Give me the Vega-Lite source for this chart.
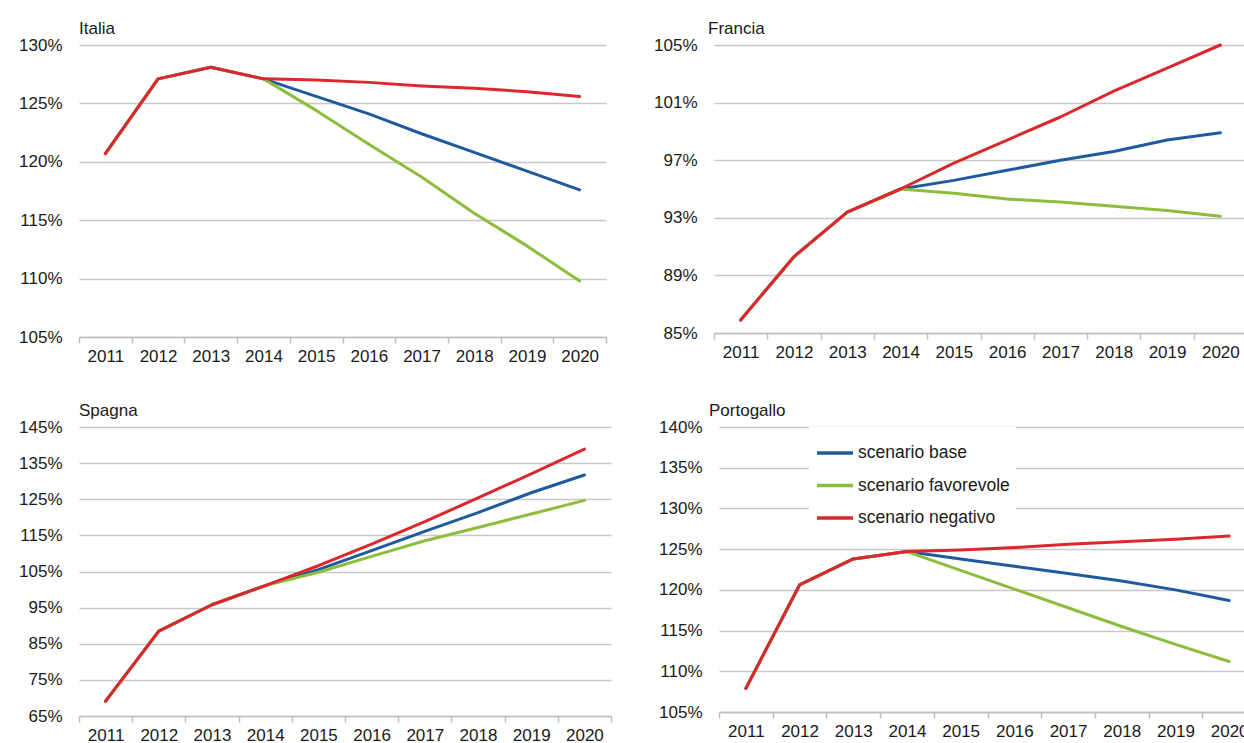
{
  "$schema": "https://vega.github.io/schema/vega-lite/v6.json",
  "padding": {"left": 18, "top": 20, "right": 0, "bottom": 0},
  "background": "white",
  "config": {
    "font": "Liberation Sans",
    "view": {"stroke": null},
    "title": {"anchor": "start", "frame": "group", "fontSize": 17, "fontWeight": "normal", "color": "#1a1a1a", "offset": -2},
    "axisX": {"title": null, "labelAngle": 0, "grid": false, "domainColor": "#bfbfbf", "domainWidth": 1.5, "tickColor": "#bfbfbf", "tickWidth": 1.5, "tickSize": 6, "tickBand": "extent", "labelFontSize": 17, "labelColor": "#1a1a1a", "labelPadding": 5},
    "axisY": {"title": null, "domain": false, "ticks": false, "grid": true, "gridColor": "#c8c8c8", "gridWidth": 1.5, "labelFontSize": 17, "labelColor": "#1a1a1a", "labelPadding": 17, "labelExpr": "datum.value + '%'"},
    "legend": {"title": null, "orient": "none", "legendX": 730, "legendY": 382, "fillColor": "white", "padding": 6, "symbolType": "stroke", "symbolStrokeWidth": 3.5, "symbolSize": 1296, "labelFontSize": 17.5, "labelColor": "#1a1a1a", "labelOffset": 3, "rowPadding": 3.5, "labelLimit": 300}
  },
  "data": {"values": [
    {"paese":"Italia","scenario":"scenario base","anno":"2011","valore":120.7},
    {"paese":"Italia","scenario":"scenario base","anno":"2012","valore":127.1},
    {"paese":"Italia","scenario":"scenario base","anno":"2013","valore":128.1},
    {"paese":"Italia","scenario":"scenario base","anno":"2014","valore":127.1},
    {"paese":"Italia","scenario":"scenario base","anno":"2015","valore":125.6},
    {"paese":"Italia","scenario":"scenario base","anno":"2016","valore":124.1},
    {"paese":"Italia","scenario":"scenario base","anno":"2017","valore":122.4},
    {"paese":"Italia","scenario":"scenario base","anno":"2018","valore":120.8},
    {"paese":"Italia","scenario":"scenario base","anno":"2019","valore":119.2},
    {"paese":"Italia","scenario":"scenario base","anno":"2020","valore":117.6},
    {"paese":"Italia","scenario":"scenario favorevole","anno":"2011","valore":120.7},
    {"paese":"Italia","scenario":"scenario favorevole","anno":"2012","valore":127.1},
    {"paese":"Italia","scenario":"scenario favorevole","anno":"2013","valore":128.1},
    {"paese":"Italia","scenario":"scenario favorevole","anno":"2014","valore":127.1},
    {"paese":"Italia","scenario":"scenario favorevole","anno":"2015","valore":124.4},
    {"paese":"Italia","scenario":"scenario favorevole","anno":"2016","valore":121.5},
    {"paese":"Italia","scenario":"scenario favorevole","anno":"2017","valore":118.7},
    {"paese":"Italia","scenario":"scenario favorevole","anno":"2018","valore":115.6},
    {"paese":"Italia","scenario":"scenario favorevole","anno":"2019","valore":112.8},
    {"paese":"Italia","scenario":"scenario favorevole","anno":"2020","valore":109.8},
    {"paese":"Italia","scenario":"scenario negativo","anno":"2011","valore":120.7},
    {"paese":"Italia","scenario":"scenario negativo","anno":"2012","valore":127.1},
    {"paese":"Italia","scenario":"scenario negativo","anno":"2013","valore":128.1},
    {"paese":"Italia","scenario":"scenario negativo","anno":"2014","valore":127.1},
    {"paese":"Italia","scenario":"scenario negativo","anno":"2015","valore":127.0},
    {"paese":"Italia","scenario":"scenario negativo","anno":"2016","valore":126.8},
    {"paese":"Italia","scenario":"scenario negativo","anno":"2017","valore":126.5},
    {"paese":"Italia","scenario":"scenario negativo","anno":"2018","valore":126.3},
    {"paese":"Italia","scenario":"scenario negativo","anno":"2019","valore":126.0},
    {"paese":"Italia","scenario":"scenario negativo","anno":"2020","valore":125.6},
    {"paese":"Francia","scenario":"scenario base","anno":"2011","valore":85.9},
    {"paese":"Francia","scenario":"scenario base","anno":"2012","valore":90.3},
    {"paese":"Francia","scenario":"scenario base","anno":"2013","valore":93.4},
    {"paese":"Francia","scenario":"scenario base","anno":"2014","valore":95.0},
    {"paese":"Francia","scenario":"scenario base","anno":"2015","valore":95.6},
    {"paese":"Francia","scenario":"scenario base","anno":"2016","valore":96.3},
    {"paese":"Francia","scenario":"scenario base","anno":"2017","valore":97.0},
    {"paese":"Francia","scenario":"scenario base","anno":"2018","valore":97.6},
    {"paese":"Francia","scenario":"scenario base","anno":"2019","valore":98.4},
    {"paese":"Francia","scenario":"scenario base","anno":"2020","valore":98.9},
    {"paese":"Francia","scenario":"scenario favorevole","anno":"2011","valore":85.9},
    {"paese":"Francia","scenario":"scenario favorevole","anno":"2012","valore":90.3},
    {"paese":"Francia","scenario":"scenario favorevole","anno":"2013","valore":93.4},
    {"paese":"Francia","scenario":"scenario favorevole","anno":"2014","valore":95.0},
    {"paese":"Francia","scenario":"scenario favorevole","anno":"2015","valore":94.7},
    {"paese":"Francia","scenario":"scenario favorevole","anno":"2016","valore":94.3},
    {"paese":"Francia","scenario":"scenario favorevole","anno":"2017","valore":94.1},
    {"paese":"Francia","scenario":"scenario favorevole","anno":"2018","valore":93.8},
    {"paese":"Francia","scenario":"scenario favorevole","anno":"2019","valore":93.5},
    {"paese":"Francia","scenario":"scenario favorevole","anno":"2020","valore":93.1},
    {"paese":"Francia","scenario":"scenario negativo","anno":"2011","valore":85.9},
    {"paese":"Francia","scenario":"scenario negativo","anno":"2012","valore":90.3},
    {"paese":"Francia","scenario":"scenario negativo","anno":"2013","valore":93.4},
    {"paese":"Francia","scenario":"scenario negativo","anno":"2014","valore":95.0},
    {"paese":"Francia","scenario":"scenario negativo","anno":"2015","valore":96.8},
    {"paese":"Francia","scenario":"scenario negativo","anno":"2016","valore":98.4},
    {"paese":"Francia","scenario":"scenario negativo","anno":"2017","valore":100.0},
    {"paese":"Francia","scenario":"scenario negativo","anno":"2018","valore":101.8},
    {"paese":"Francia","scenario":"scenario negativo","anno":"2019","valore":103.4},
    {"paese":"Francia","scenario":"scenario negativo","anno":"2020","valore":105.0},
    {"paese":"Spagna","scenario":"scenario base","anno":"2011","valore":69.1},
    {"paese":"Spagna","scenario":"scenario base","anno":"2012","valore":88.5},
    {"paese":"Spagna","scenario":"scenario base","anno":"2013","valore":95.8},
    {"paese":"Spagna","scenario":"scenario base","anno":"2014","valore":101.1},
    {"paese":"Spagna","scenario":"scenario base","anno":"2015","valore":105.5},
    {"paese":"Spagna","scenario":"scenario base","anno":"2016","valore":110.8},
    {"paese":"Spagna","scenario":"scenario base","anno":"2017","valore":116.1},
    {"paese":"Spagna","scenario":"scenario base","anno":"2018","valore":121.3},
    {"paese":"Spagna","scenario":"scenario base","anno":"2019","valore":126.8},
    {"paese":"Spagna","scenario":"scenario base","anno":"2020","valore":131.7},
    {"paese":"Spagna","scenario":"scenario favorevole","anno":"2011","valore":69.1},
    {"paese":"Spagna","scenario":"scenario favorevole","anno":"2012","valore":88.5},
    {"paese":"Spagna","scenario":"scenario favorevole","anno":"2013","valore":95.8},
    {"paese":"Spagna","scenario":"scenario favorevole","anno":"2014","valore":101.1},
    {"paese":"Spagna","scenario":"scenario favorevole","anno":"2015","valore":104.8},
    {"paese":"Spagna","scenario":"scenario favorevole","anno":"2016","valore":109.2},
    {"paese":"Spagna","scenario":"scenario favorevole","anno":"2017","valore":113.5},
    {"paese":"Spagna","scenario":"scenario favorevole","anno":"2018","valore":117.2},
    {"paese":"Spagna","scenario":"scenario favorevole","anno":"2019","valore":120.9},
    {"paese":"Spagna","scenario":"scenario favorevole","anno":"2020","valore":124.7},
    {"paese":"Spagna","scenario":"scenario negativo","anno":"2011","valore":69.1},
    {"paese":"Spagna","scenario":"scenario negativo","anno":"2012","valore":88.5},
    {"paese":"Spagna","scenario":"scenario negativo","anno":"2013","valore":95.8},
    {"paese":"Spagna","scenario":"scenario negativo","anno":"2014","valore":101.1},
    {"paese":"Spagna","scenario":"scenario negativo","anno":"2015","valore":106.6},
    {"paese":"Spagna","scenario":"scenario negativo","anno":"2016","valore":112.6},
    {"paese":"Spagna","scenario":"scenario negativo","anno":"2017","valore":118.8},
    {"paese":"Spagna","scenario":"scenario negativo","anno":"2018","valore":125.4},
    {"paese":"Spagna","scenario":"scenario negativo","anno":"2019","valore":132.0},
    {"paese":"Spagna","scenario":"scenario negativo","anno":"2020","valore":138.9},
    {"paese":"Portogallo","scenario":"scenario base","anno":"2011","valore":107.9},
    {"paese":"Portogallo","scenario":"scenario base","anno":"2012","valore":120.6},
    {"paese":"Portogallo","scenario":"scenario base","anno":"2013","valore":123.8},
    {"paese":"Portogallo","scenario":"scenario base","anno":"2014","valore":124.7},
    {"paese":"Portogallo","scenario":"scenario base","anno":"2015","valore":123.8},
    {"paese":"Portogallo","scenario":"scenario base","anno":"2016","valore":122.9},
    {"paese":"Portogallo","scenario":"scenario base","anno":"2017","valore":122.0},
    {"paese":"Portogallo","scenario":"scenario base","anno":"2018","valore":121.1},
    {"paese":"Portogallo","scenario":"scenario base","anno":"2019","valore":120.0},
    {"paese":"Portogallo","scenario":"scenario base","anno":"2020","valore":118.7},
    {"paese":"Portogallo","scenario":"scenario favorevole","anno":"2011","valore":107.9},
    {"paese":"Portogallo","scenario":"scenario favorevole","anno":"2012","valore":120.6},
    {"paese":"Portogallo","scenario":"scenario favorevole","anno":"2013","valore":123.8},
    {"paese":"Portogallo","scenario":"scenario favorevole","anno":"2014","valore":124.7},
    {"paese":"Portogallo","scenario":"scenario favorevole","anno":"2015","valore":122.4},
    {"paese":"Portogallo","scenario":"scenario favorevole","anno":"2016","valore":120.1},
    {"paese":"Portogallo","scenario":"scenario favorevole","anno":"2017","valore":117.8},
    {"paese":"Portogallo","scenario":"scenario favorevole","anno":"2018","valore":115.5},
    {"paese":"Portogallo","scenario":"scenario favorevole","anno":"2019","valore":113.3},
    {"paese":"Portogallo","scenario":"scenario favorevole","anno":"2020","valore":111.2},
    {"paese":"Portogallo","scenario":"scenario negativo","anno":"2011","valore":107.9},
    {"paese":"Portogallo","scenario":"scenario negativo","anno":"2012","valore":120.6},
    {"paese":"Portogallo","scenario":"scenario negativo","anno":"2013","valore":123.8},
    {"paese":"Portogallo","scenario":"scenario negativo","anno":"2014","valore":124.7},
    {"paese":"Portogallo","scenario":"scenario negativo","anno":"2015","valore":124.9},
    {"paese":"Portogallo","scenario":"scenario negativo","anno":"2016","valore":125.2},
    {"paese":"Portogallo","scenario":"scenario negativo","anno":"2017","valore":125.6},
    {"paese":"Portogallo","scenario":"scenario negativo","anno":"2018","valore":125.9},
    {"paese":"Portogallo","scenario":"scenario negativo","anno":"2019","valore":126.2},
    {"paese":"Portogallo","scenario":"scenario negativo","anno":"2020","valore":126.6}
  ]},
  "spacing": 38,
  "vconcat": [
    {
      "spacing": 46,
      "hconcat": [
        {
          "title": {"text": "Italia"},
          "width": 527, "height": 292,
          "transform": [{"filter": "datum.paese === 'Italia'"}],
          "mark": {"type": "line", "strokeWidth": 3, "strokeJoin": "round", "strokeCap": "round"},
          "encoding": {
            "x": {"field": "anno", "type": "ordinal", "bandPosition": 0.5, "scale": {"type": "band", "paddingInner": 0, "paddingOuter": 0}},
            "y": {"field": "valore", "type": "quantitative", "scale": {"domain": [105, 130], "nice": false, "zero": false}, "axis": {"values": [105, 110, 115, 120, 125, 130], "minExtent": 60, "maxExtent": 60}},
            "color": {"field": "scenario", "type": "nominal", "scale": {"domain": ["scenario base", "scenario favorevole", "scenario negativo"], "range": ["#1f5a9e", "#8cbd3c", "#dc282c"]}}
          }
        },
        {
          "title": {"text": "Francia", "dx": -6},
          "width": 533, "height": 288,
          "transform": [{"filter": "datum.paese === 'Francia'"}],
          "mark": {"type": "line", "strokeWidth": 3, "strokeJoin": "round", "strokeCap": "round"},
          "encoding": {
            "x": {"field": "anno", "type": "ordinal", "bandPosition": 0.5, "scale": {"type": "band", "paddingInner": 0, "paddingOuter": 0}},
            "y": {"field": "valore", "type": "quantitative", "scale": {"domain": [85, 105], "nice": false, "zero": false}, "axis": {"values": [85, 89, 93, 97, 101, 105], "minExtent": 60, "maxExtent": 60}},
            "color": {"field": "scenario", "type": "nominal", "scale": {"domain": ["scenario base", "scenario favorevole", "scenario negativo"], "range": ["#1f5a9e", "#8cbd3c", "#dc282c"]}}
          }
        }
      ]
    },
    {
      "spacing": 46,
      "hconcat": [
        {
          "title": {"text": "Spagna"},
          "width": 532, "height": 289,
          "transform": [{"filter": "datum.paese === 'Spagna'"}],
          "mark": {"type": "line", "strokeWidth": 3, "strokeJoin": "round", "strokeCap": "round"},
          "encoding": {
            "x": {"field": "anno", "type": "ordinal", "bandPosition": 0.5, "scale": {"type": "band", "paddingInner": 0, "paddingOuter": 0}},
            "y": {"field": "valore", "type": "quantitative", "scale": {"domain": [65, 145], "nice": false, "zero": false}, "axis": {"values": [65, 75, 85, 95, 105, 115, 125, 135, 145], "minExtent": 55, "maxExtent": 55}},
            "color": {"field": "scenario", "type": "nominal", "scale": {"domain": ["scenario base", "scenario favorevole", "scenario negativo"], "range": ["#1f5a9e", "#8cbd3c", "#dc282c"]}}
          }
        },
        {
          "title": {"text": "Portogallo", "dx": -10},
          "width": 537, "height": 285,
          "transform": [{"filter": "datum.paese === 'Portogallo'"}],
          "mark": {"type": "line", "strokeWidth": 3, "strokeJoin": "round", "strokeCap": "round"},
          "encoding": {
            "x": {"field": "anno", "type": "ordinal", "bandPosition": 0.5, "scale": {"type": "band", "paddingInner": 0, "paddingOuter": 0}},
            "y": {"field": "valore", "type": "quantitative", "scale": {"domain": [105, 140], "nice": false, "zero": false}, "axis": {"values": [105, 110, 115, 120, 125, 130, 135, 140], "minExtent": 56, "maxExtent": 56}},
            "color": {"field": "scenario", "type": "nominal", "scale": {"domain": ["scenario base", "scenario favorevole", "scenario negativo"], "range": ["#1f5a9e", "#8cbd3c", "#dc282c"]}}
          }
        }
      ]
    }
  ]
}
